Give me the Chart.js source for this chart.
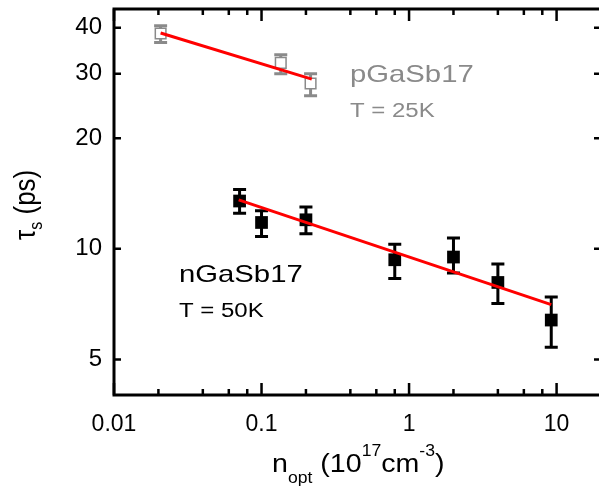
<!DOCTYPE html>
<html>
<head>
<meta charset="utf-8">
<script src="https://cdn.jsdelivr.net/npm/chart.js@4.4.1/dist/chart.umd.min.js"></script>
<style>
html, body { margin: 0; padding: 0; background: #fff; overflow: hidden; }
#wrap { width: 610px; height: 492px; }
</style>
</head>
<body>
<div id="wrap"><canvas id="chart" width="610" height="492"></canvas></div>
<script>
// pGaSb17, T = 25K (hollow grey squares)
const pDens = [0.0207, 0.135, 0.215];
const pTau = [38.6, 32.1, 28.2];
const pTauLow = [36.5, 30.0, 26.1];
const pTauHigh = [40.5, 33.8, 30.0];
const pFitDens = [0.0207, 0.219];
const pFitTau = [38.7, 29.0];

// nGaSb17, T = 50K (filled black squares)
const nDens = [0.071, 0.1, 0.2, 0.8, 2.0, 4.0, 9.2];
const nTau = [13.5, 11.8, 12.0, 9.34, 9.5, 8.1, 6.4];
const nTauLow = [12.5, 10.8, 11.0, 8.3, 8.6, 7.1, 5.4];
const nTauHigh = [14.5, 12.7, 13.0, 10.3, 10.7, 9.1, 7.4];
const nFitDens = [0.07, 9.2];
const nFitTau = [13.6, 7.05];

// axes
const xTicks = [0.01, 0.02, 0.04, 0.06, 0.08, 0.1, 0.2, 0.4, 0.6, 0.8, 1, 2, 4, 6, 8, 10];
const xLabels = [0.01, 0.1, 1, 10];
const yTicks = [5, 10, 20, 30, 40];

const GREY = '#8a8a8a';
const FONT = '"Liberation Sans", Arial, sans-serif';

const pts = (xs, ys) => xs.map((x, i) => ({ x: x, y: ys[i] }));

// text drawn with a little horizontal stretch, like the original figure
function stretchText(ctx, str, x, y, size, sx, color) {
    ctx.save();
    ctx.translate(x, y);
    ctx.scale(sx, 1);
    ctx.font = size + 'px ' + FONT;
    ctx.fillStyle = color;
    ctx.textBaseline = 'alphabetic';
    ctx.textAlign = 'left';
    ctx.fillText(str, 0, 0);
    ctx.restore();
}

// error bars, under the markers
const errorBars = {
    id: 'errorBars',
    beforeDatasetsDraw(chart) {
        const ctx = chart.ctx;
        const xs = chart.scales.x, ys = chart.scales.y;
        const draw = (dens, lo, hi, color) => {
            ctx.save();
            ctx.strokeStyle = color;
            ctx.lineWidth = 3;
            dens.forEach((d, i) => {
                const px = xs.getPixelForValue(d);
                const top = ys.getPixelForValue(hi[i]);
                const bot = ys.getPixelForValue(lo[i]);
                ctx.beginPath();
                ctx.moveTo(px, top); ctx.lineTo(px, bot);
                ctx.moveTo(px - 6.5, top); ctx.lineTo(px + 6.5, top);
                ctx.moveTo(px - 6.5, bot); ctx.lineTo(px + 6.5, bot);
                ctx.stroke();
            });
            ctx.restore();
        };
        draw(pDens, pTauLow, pTauHigh, GREY);
        draw(nDens, nTauLow, nTauHigh, '#000');
    }
};

// frame, inward ticks, titles and labels
const frame = {
    id: 'frame',
    afterDraw(chart) {
        const ctx = chart.ctx;
        const a = chart.chartArea;
        const xs = chart.scales.x, ys = chart.scales.y;
        ctx.save();
        ctx.strokeStyle = '#000';
        ctx.lineWidth = 3;
        ctx.strokeRect(a.left, a.top, a.right - a.left, a.bottom - a.top);
        ctx.lineWidth = 2.5;
        ctx.beginPath();
        xTicks.forEach(v => {
            const px = xs.getPixelForValue(v);
            const len = xLabels.includes(v) ? 12 : 6;
            ctx.moveTo(px, a.bottom); ctx.lineTo(px, a.bottom - len);
            ctx.moveTo(px, a.top); ctx.lineTo(px, a.top + len);
        });
        yTicks.forEach(v => {
            const py = ys.getPixelForValue(v);
            ctx.moveTo(a.left, py); ctx.lineTo(a.left + 7, py);
            ctx.moveTo(a.right, py); ctx.lineTo(a.right - 7, py);
        });
        ctx.stroke();
        ctx.restore();

        // x axis title: n_opt (10^17 cm^-3)
        const sx = 1.1, big = 26, small = 16;
        ctx.save();
        ctx.translate(272, 472);
        ctx.scale(sx, 1);
        ctx.fillStyle = '#000';
        let cx = 0;
        const put = (s, size, dy) => {
            ctx.font = size + 'px ' + FONT;
            ctx.fillText(s, cx, dy);
            cx += ctx.measureText(s).width;
        };
        put('n', big, 0);
        put('opt', small, 11);
        put(' (10', big, 0);
        put('17', small, -16);
        put('cm', big, 0);
        put('-3', small, -16);
        put(')', big, 0);
        ctx.restore();

        // y axis title: tau_s (ps)
        ctx.save();
        ctx.translate(35, 240);
        ctx.scale(1.15, 1);
        ctx.rotate(-Math.PI / 2);
        ctx.fillStyle = '#000';
        cx = 0;
        put('\u03c4', 26, 0);
        put('s', 16, 6);
        put(' (ps)', 26, 0);
        ctx.restore();

        // sample labels
        stretchText(ctx, 'pGaSb17', 350, 82, 24, 1.22, GREY);
        stretchText(ctx, 'T = 25K', 350, 117, 20, 1.2, GREY);
        stretchText(ctx, 'nGaSb17', 179, 282, 24, 1.22, '#000');
        stretchText(ctx, 'T = 50K', 179, 317, 20, 1.2, '#000');
    }
};

new Chart(document.getElementById('chart'), {
    type: 'scatter',
    data: {
        datasets: [
            {
                data: pts(pFitDens, pFitTau),
                showLine: true,
                borderColor: '#ff0000',
                borderWidth: 3,
                pointRadius: 0,
                order: 0
            },
            {
                data: pts(nFitDens, nFitTau),
                showLine: true,
                borderColor: '#ff0000',
                borderWidth: 3,
                pointRadius: 0,
                order: 0
            },
            {
                data: pts(pDens, pTau),
                pointStyle: 'rect',
                pointRadius: 7.5,
                pointBorderWidth: 1.5,
                pointBorderColor: GREY,
                pointBackgroundColor: '#fff',
                order: 1
            },
            {
                data: pts(nDens, nTau),
                pointStyle: 'rect',
                pointRadius: 9,
                pointBorderWidth: 0,
                pointBackgroundColor: '#000',
                order: 1
            }
        ]
    },
    options: {
        responsive: false,
        animation: false,
        devicePixelRatio: 1,
        layout: { padding: { top: 7, right: 2, left: 0, bottom: 0 } },
        plugins: {
            legend: { display: false },
            tooltip: { enabled: false }
        },
        scales: {
            x: {
                type: 'logarithmic',
                min: 0.01,
                max: 20,
                grid: { display: false, drawTicks: false },
                border: { display: false },
                afterBuildTicks: s => { s.ticks = xTicks.map(v => ({ value: v })); },
                afterFit: s => { s.height = 97; s.paddingLeft = 0; s.paddingRight = 0; },
                ticks: {
                    autoSkip: false,
                    maxRotation: 0,
                    padding: 16,
                    color: '#000',
                    font: { family: FONT, size: 23 },
                    callback: v => xLabels.includes(v) ? String(v) : ''
                }
            },
            y: {
                type: 'logarithmic',
                min: 4,
                max: 45,
                grid: { display: false, drawTicks: false },
                border: { display: false },
                afterBuildTicks: s => { s.ticks = yTicks.map(v => ({ value: v })); },
                afterFit: s => { s.width = 114; s.paddingTop = 0; s.paddingBottom = 0; },
                ticks: {
                    autoSkip: false,
                    padding: 12,
                    color: '#000',
                    font: { family: FONT, size: 24 },
                    callback: v => String(v)
                }
            }
        }
    },
    plugins: [errorBars, frame]
});
</script>
</body>
</html>
